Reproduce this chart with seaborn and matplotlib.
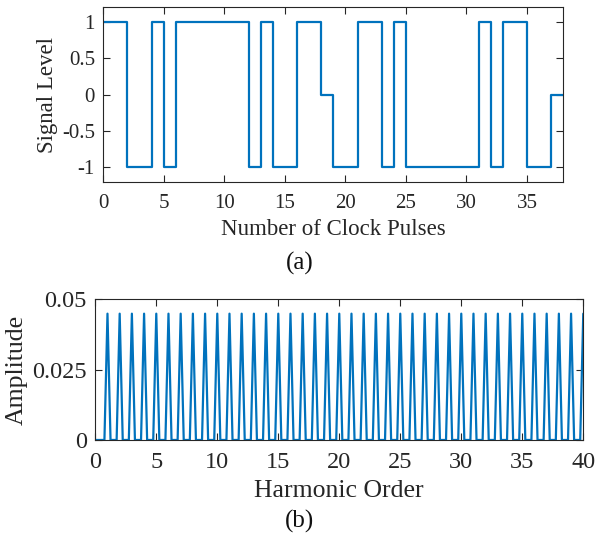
import numpy as np
import pandas as pd
import matplotlib
matplotlib.use("Agg")
import matplotlib.pyplot as plt
import seaborn as sns

# ---- data ----
# signal level for each clock period 0..37
clock_levels = [1, 1, -1, -1, 1, -1, 1, 1, 1, 1, 1, 1, -1, 1, -1, -1, 1, 1, 0, -1,
                -1, 1, 1, -1, 1, -1, -1, -1, -1, -1, -1, 1, -1, 1, 1, -1, -1, 0]
harmonic_orders = list(range(1, 41))
harmonic_amps = [0.0449] * 40
half_width = 0.25

sns.set_theme(style="ticks")
plt.rcParams['font.family'] = ['Liberation Serif', 'DejaVu Serif']
plt.rcParams['mathtext.fontset'] = 'stix'

color = '#0072BD'

fig = plt.figure(figsize=(5.97, 5.45), dpi=100)
ax1 = fig.add_axes([0.173, 0.6666, 0.9436 - 0.173, 0.9866 - 0.6666])
ax2 = fig.add_axes([0.1596, 0.1927, 0.977 - 0.1596, 0.4508 - 0.1927])

# top: step signal
t = list(range(len(clock_levels) + 1))
lv = clock_levels + [clock_levels[-1]]
df1 = pd.DataFrame({"t": t, "level": lv})
sns.lineplot(data=df1, x="t", y="level", ax=ax1, color=color, linewidth=1.6,
             drawstyle='steps-post', estimator=None, sort=False)
ax1.set_xlim(0, 38)
ax1.set_ylim(-1.2, 1.2)
ax1.set_xticks([0, 5, 10, 15, 20, 25, 30, 35])
ax1.set_yticks([-1, -0.5, 0, 0.5, 1])
ax1.set_yticklabels(['-1', '-0.5', '0', '0.5', '1'])
ax1.set_xlabel('Number of Clock Pulses', fontsize=16.5, labelpad=4)
ax1.set_ylabel('Signal Level', fontsize=16.5, labelpad=3)
ax1.tick_params(direction='in', length=5, width=0.8, top=True, right=True,
                labelsize=15, colors='#262626', pad=6)
ax1.tick_params(axis='x', pad=9)

# bottom: harmonic spectrum
xs, ys = [0.0], [0.0]
for h, a in zip(harmonic_orders, harmonic_amps):
    xs += [h - half_width, h, h + half_width]
    ys += [0.0, a, 0.0]
df2 = pd.DataFrame({"order": xs, "amp": ys})
sns.lineplot(data=df2, x="order", y="amp", ax=ax2, color=color, linewidth=1.6,
             estimator=None, sort=False)
ax2.set_xlim(0, 40)
ax2.set_ylim(0, 0.05)
ax2.set_xticks([0, 5, 10, 15, 20, 25, 30, 35, 40])
ax2.set_yticks([0, 0.025, 0.05])
ax2.set_yticklabels(['0', '0.025', '0.05'])
ax2.set_xlabel('Harmonic Order', fontsize=18.5, labelpad=5)
ax2.set_ylabel('Amplitude', fontsize=18.5, labelpad=3)
ax2.tick_params(direction='in', length=5, width=0.8, top=True, right=True,
                labelsize=17.5, colors='#262626', pad=6)
ax2.tick_params(axis='x', pad=9)

for ax in (ax1, ax2):
    for s in ax.spines.values():
        s.set_linewidth(0.8)
        s.set_color('#262626')
    ax.xaxis.label.set_color('#262626')
    ax.yaxis.label.set_color('#262626')

fig.text(0.5025, 0.517, '(a)', fontsize=18, ha='center', va='center', color='#111111')
fig.text(0.5025, 0.044, '(b)', fontsize=18, ha='center', va='center', color='#111111')

fig.savefig('out.png', dpi=100)
